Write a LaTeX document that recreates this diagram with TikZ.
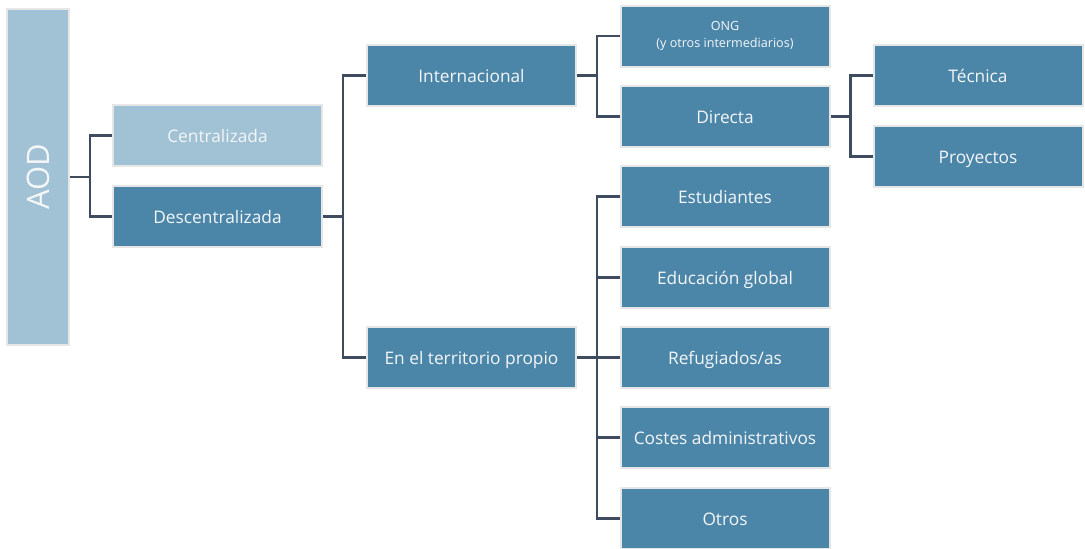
\documentclass[tikz,border=0pt]{standalone}
\usepackage{fontspec}
\setmainfont{Open Sans}
\definecolor{lightbox}{HTML}{A1C1D5}
\definecolor{darkbox}{HTML}{4B86A8}
\definecolor{boxborder}{HTML}{E6E6E6}
\definecolor{linkcol}{HTML}{3F4C5F}
\definecolor{txt}{HTML}{F4F6F8}
\tikzset{
  box/.style={draw=boxborder, line width=2pt, minimum width=209pt, minimum height=61pt,
    inner sep=0pt, text=txt, font=\fontsize{17.3}{20}\selectfont, align=center},
  oneline/.style={text height=14pt, text depth=0pt},
  lightb/.style={box, fill=lightbox},
  darkb/.style={box, fill=darkbox},
  link/.style={draw=linkcol, line width=2.5pt}
}
\begin{document}
\begin{tikzpicture}[x=1pt,y=-1pt]
\useasboundingbox (0,0) rectangle (1085,549);
\node[lightb, minimum width=62pt, minimum height=336pt] (aod) at (38,177)
  {\rotatebox{90}{\fontsize{31}{34}\selectfont AOD}};
\node[lightb, oneline] (cen) at (217.5,135.5) {Centralizada};
\node[darkb, oneline] (desc) at (217.5,216.5) {Descentralizada};
\node[darkb, oneline] (int) at (471.5,75.5) {Internacional};
\node[darkb, oneline] (terr) at (471.5,357.5) {En el territorio propio};
\node[darkb, font=\fontsize{12.6}{17}\selectfont] (ong) at (725,36) {ONG\\(y otros intermediarios)};
\node[darkb, oneline] (dir) at (725,116.5) {Directa};
\node[darkb, oneline] (est) at (725,196.5) {Estudiantes};
\node[darkb, oneline] (edu) at (725,277.5) {Educación global};
\node[darkb, oneline] (ref) at (725,357.5) {Refugiados/as};
\node[darkb, oneline] (cos) at (725,437.5) {Costes administrativos};
\node[darkb, oneline] (otr) at (725,518.5) {Otros};
\node[darkb, oneline] (tec) at (978,75.5) {Técnica};
\node[darkb, oneline] (pro) at (978,156.5) {Proyectos};

\draw[link] (aod.east) -- ++(20,0) coordinate (b1);
\draw[link] (b1) |- (cen.west);
\draw[link] (b1) |- (desc.west);
\draw[link] (desc.east) -- ++(20,0) coordinate (b2);
\draw[link] (b2) |- (int.west);
\draw[link] (b2) |- (terr.west);
\draw[link] (int.east) -- ++(20,0) coordinate (b3);
\draw[link] (b3) |- (ong.west);
\draw[link] (b3) |- (dir.west);
\draw[link] (dir.east) -- ++(20,0) coordinate (b4);
\draw[link] (b4) |- (tec.west);
\draw[link] (b4) |- (pro.west);
\draw[link] (terr.east) -- ++(20,0) coordinate (b5);
\draw[link] (b5) |- (est.west);
\draw[link] (b5) |- (edu.west);
\draw[link] (b5) |- (ref.west);
\draw[link] (b5) |- (cos.west);
\draw[link] (b5) |- (otr.west);
\end{tikzpicture}
\end{document}
